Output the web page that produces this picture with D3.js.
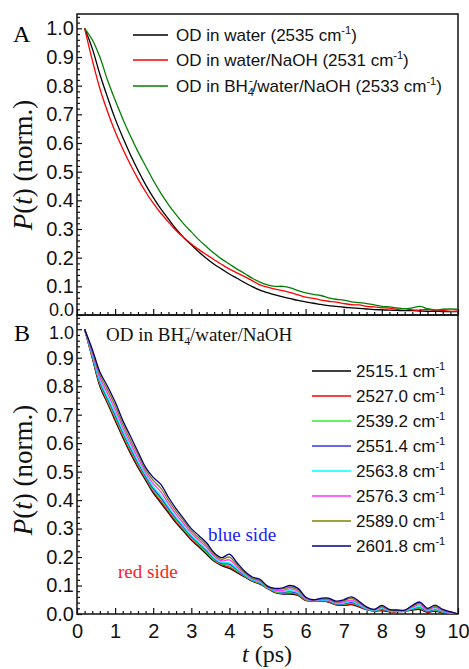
<!DOCTYPE html>
<html><head><meta charset="utf-8">
<script src="https://cdn.jsdelivr.net/npm/d3@7"></script>
<style>
html,body{margin:0;padding:0;background:#fff;}
svg{display:block;}
</style>
</head><body>
<svg id="chart" width="469" height="669"></svg>
<script>
// ---------- DATA ----------
const timesA = [0.2,0.4,0.6,0.8,1.0,1.2,1.4,1.6,1.8,2.0,2.2,2.4,2.6,2.8,3.0,3.2,3.4,3.6,3.8,4.0,4.2,4.4,4.6,4.8,5.0,5.2,5.4,5.6,5.8,6.0,6.2,6.4,6.6,6.8,7.0,7.2,7.4,7.6,7.8,8.0,8.2,8.4,8.6,8.8,9.0,9.2,9.4,9.6,9.8,10.0];
const seriesNamesA = ["OD in water (2535 cm", "OD in water/NaOH (2531 cm", "OD in BH4/water/NaOH (2533 cm"];
const colorsA = ["#000000", "#ff0000", "#008000"];
const odWater = [1.0,0.93,0.84,0.76,0.685,0.62,0.56,0.505,0.455,0.41,0.37,0.335,0.30,0.27,0.245,0.22,0.197,0.177,0.16,0.143,0.128,0.113,0.099,0.087,0.078,0.07,0.063,0.057,0.051,0.046,0.041,0.037,0.033,0.03,0.027,0.025,0.023,0.021,0.019,0.018,0.017,0.016,0.015,0.015,0.014,0.013,0.013,0.012,0.012,0.012];
const odNaOH = [1.0,0.89,0.79,0.71,0.64,0.58,0.525,0.475,0.43,0.39,0.355,0.325,0.295,0.27,0.248,0.228,0.21,0.193,0.176,0.16,0.147,0.134,0.12,0.105,0.097,0.09,0.085,0.078,0.07,0.062,0.058,0.052,0.048,0.045,0.04,0.036,0.035,0.03,0.028,0.025,0.024,0.02,0.022,0.018,0.017,0.02,0.015,0.016,0.013,0.014];
const odBH4 = [1.0,0.96,0.90,0.82,0.75,0.685,0.625,0.57,0.52,0.47,0.425,0.385,0.35,0.318,0.29,0.262,0.238,0.215,0.195,0.178,0.16,0.145,0.128,0.115,0.105,0.1,0.1,0.095,0.085,0.077,0.072,0.068,0.06,0.055,0.052,0.046,0.043,0.04,0.035,0.03,0.028,0.025,0.022,0.025,0.03,0.022,0.018,0.02,0.021,0.02];

const timesB = timesA;
const freqLabelsB = ["2515.1","2527.0","2539.2","2551.4","2563.8","2576.3","2589.0","2601.8"];
const colorsB = ["#000000","#ff0000","#33ee33","#3333ff","#00ffff","#ff33ff","#808000","#000080"];
const b2515 = [1,.900,.800,.740,.680,.620,.565,.515,.470,.425,.390,.355,.320,.290,.260,.235,.210,.185,.170,.160,.145,.130,.115,.105,.090,.075,.070,.070,.065,.048,.045,.045,.042,.032,.030,.033,.025,.015,.010,.012,.008,.008,.009,.014,.016,.006,.010,.004,.002,0];
const b2527 = [1,.902,.806,.745,.686,.626,.571,.520,.475,.431,.396,.360,.325,.295,.264,.239,.214,.188,.173,.165,.149,.132,.117,.107,.091,.077,.072,.073,.067,.049,.046,.046,.043,.033,.032,.036,.027,.016,.011,.014,.009,.009,.010,.016,.019,.007,.012,.005,.003,0];
const b2539 = [1,.906,.810,.750,.692,.632,.577,.526,.480,.436,.403,.366,.330,.299,.268,.243,.218,.191,.176,.170,.152,.134,.118,.108,.092,.078,.074,.076,.070,.050,.046,.047,.045,.035,.034,.038,.029,.017,.011,.016,.010,.009,.010,.017,.021,.009,.014,.006,.003,0];
const b2551 = [1,.910,.815,.756,.699,.638,.583,.531,.484,.441,.409,.371,.335,.304,.272,.247,.222,.194,.178,.175,.156,.136,.120,.110,.093,.080,.077,.079,.072,.052,.047,.048,.046,.036,.036,.041,.031,.018,.012,.017,.010,.010,.011,.019,.024,.010,.016,.008,.004,0];
const b2563 = [1,.912,.820,.762,.706,.644,.589,.537,.489,.447,.416,.377,.340,.308,.276,.251,.226,.197,.181,.180,.159,.138,.121,.112,.093,.081,.079,.082,.075,.053,.047,.049,.048,.037,.038,.044,.033,.019,.012,.019,.011,.010,.011,.020,.026,.012,.018,.009,.004,0];
const b2576 = [1,.918,.830,.775,.718,.656,.600,.548,.497,.458,.429,.388,.350,.317,.284,.259,.234,.203,.187,.190,.166,.142,.124,.115,.095,.084,.083,.088,.080,.055,.048,.051,.050,.040,.042,.049,.037,.021,.014,.023,.013,.011,.012,.024,.032,.014,.023,.011,.005,0];
const b2589 = [1,.925,.840,.788,.732,.668,.612,.560,.506,.469,.442,.399,.360,.326,.292,.267,.242,.209,.192,.200,.173,.146,.127,.118,.096,.087,.088,.094,.085,.058,.049,.053,.053,.042,.046,.055,.041,.023,.015,.026,.014,.013,.013,.027,.037,.017,.027,.014,.007,0];
const b2601 = [1,.930,.850,.800,.745,.680,.625,.570,.515,.480,.455,.410,.370,.335,.300,.275,.250,.215,.198,.210,.180,.150,.130,.122,.098,.090,.092,.100,.090,.060,.050,.055,.056,.045,.050,.060,.045,.025,.016,.030,.016,.014,.014,.030,.042,.020,.031,.016,.008,0];

const xTicks = [0,1,2,3,4,5,6,7,8,9,10];
const yTicks = [0.0,0.1,0.2,0.3,0.4,0.5,0.6,0.7,0.8,0.9,1.0];

// ---------- LAYOUT ----------
const svg = d3.select("#chart");
const L = 77, R = 458;
const panelA = {top: 14, bottom: 315};
const panelB = {top: 315, bottom: 614};
const x = d3.scaleLinear().domain([0,10]).range([L,R]);
const yA = d3.scaleLinear().domain([0,1.05]).range([panelA.bottom, panelA.top]);
const yB = d3.scaleLinear().domain([0,1.05]).range([panelB.bottom, panelB.top]);
const fontSans = "Arial, 'Liberation Sans', sans-serif";
const fontSerif = "'Times New Roman', 'Liberation Serif', serif";

function drawPanel(y, p, which) {
  const g = svg.append("g");
  const yAxis = d3.axisLeft(y).tickValues(yTicks).tickSize(-5).tickPadding(3)
    .tickFormat(d3.format(".1f"));
  const ga = g.append("g").attr("transform", `translate(${L},0)`).call(yAxis);
  ga.select(".domain").remove();
  ga.selectAll("text").attr("font-size", 20).attr("font-family", fontSans).attr("fill","#111");
  // the two labels at the panel junction are squeezed apart a little
  ga.selectAll("text").filter(d => (which === "A" && d === 0) || (which === "B" && d === 1))
    .attr("font-size", 18)
    .attr("transform", which === "A" ? "translate(0,-5)" : "translate(0,3)");
  ga.selectAll("line").attr("stroke","#111").attr("stroke-width",1.2);
  const minorY = d3.range(0, 1.051, 0.02).filter(v => Math.abs(v*10 - Math.round(v*10)) > 1e-6);
  g.append("g").attr("transform", `translate(${L},0)`)
    .call(d3.axisLeft(y).tickValues(minorY).tickSize(-3).tickFormat(""))
    .call(s => { s.select(".domain").remove(); s.selectAll("line").attr("stroke","#111").attr("stroke-width",1.2); });
  const xAxis = d3.axisBottom(x).tickValues(xTicks).tickSize(-6).tickPadding(10)
    .tickFormat(which === "B" ? d3.format("d") : "");
  const gx = g.append("g").attr("transform", `translate(0,${p.bottom})`).call(xAxis);
  gx.select(".domain").remove();
  gx.selectAll("text").attr("font-size", 20).attr("font-family", fontSans).attr("fill","#111");
  gx.selectAll("line").attr("stroke","#111").attr("stroke-width",1.2);
  const minorX = d3.range(0, 10.01, 0.2).filter(v => Math.abs(v - Math.round(v)) > 1e-6);
  g.append("g").attr("transform", `translate(0,${p.bottom})`)
    .call(d3.axisBottom(x).tickValues(minorX).tickSize(-3).tickFormat(""))
    .call(s => { s.select(".domain").remove(); s.selectAll("line").attr("stroke","#111").attr("stroke-width",1.2); });
  g.append("rect").attr("x", L).attr("y", p.top).attr("width", R-L).attr("height", p.bottom-p.top)
    .attr("fill","none").attr("stroke","#111").attr("stroke-width",1.5);
  return g;
}

drawPanel(yA, panelA, "A");
drawPanel(yB, panelB, "B");

svg.append("clipPath").attr("id","clipA").append("rect").attr("x",L).attr("y",panelA.top).attr("width",R-L).attr("height",panelA.bottom-panelA.top);
svg.append("clipPath").attr("id","clipB").append("rect").attr("x",L).attr("y",panelB.top).attr("width",R-L).attr("height",panelB.bottom-panelB.top);

const seriesA = [odWater, odNaOH, odBH4];
const lineA = d3.line().x((d,i)=>x(timesA[i])).y(d=>yA(d)).curve(d3.curveCatmullRom.alpha(0.5));
const gA = svg.append("g").attr("clip-path","url(#clipA)");
seriesA.forEach((s,i)=>{
  gA.append("path").datum(s).attr("d", lineA).attr("fill","none").attr("stroke", colorsA[i]).attr("stroke-width",1.3);
});

const seriesB = [b2515,b2527,b2539,b2551,b2563,b2576,b2589,b2601];
const lineB = d3.line().x((d,i)=>x(timesB[i])).y(d=>yB(d)).curve(d3.curveCatmullRom.alpha(0.5));
const gB = svg.append("g").attr("clip-path","url(#clipB)");
seriesB.forEach((s,i)=>{
  gB.append("path").datum(s).attr("d", lineB).attr("fill","none").attr("stroke", colorsB[i]).attr("stroke-width",1.3);
});

// ---------- LEGEND A ----------
const legA = svg.append("g");
const legARows = [35, 60, 86];
seriesNamesA.forEach((name,i)=>{
  const yy = legARows[i];
  legA.append("line").attr("x1",133).attr("x2",168).attr("y1",yy).attr("y2",yy).attr("stroke",colorsA[i]).attr("stroke-width",1.5);
  const t = legA.append("text").attr("x",176).attr("y",yy+6).attr("font-family",fontSans).attr("font-size",17).attr("fill","#111");
  if (i === 2) {
    t.append("tspan").text("OD in BH");
    t.append("tspan").attr("font-size",11).attr("dy",4).text("4");
    t.append("tspan").attr("font-size",11).attr("dy",-12).attr("dx",-5).text("-");
    t.append("tspan").attr("dy",8).text("/water/NaOH (2533 cm");
  } else {
    t.append("tspan").text(name);
  }
  t.append("tspan").attr("font-size",11).attr("dy",-7).text("-1");
  t.append("tspan").attr("dy",7).text(")");
});

// ---------- LEGEND B ----------
const legB = svg.append("g");
freqLabelsB.forEach((f,i)=>{
  const yy = 371 + i*25;
  legB.append("line").attr("x1",312).attr("x2",351).attr("y1",yy).attr("y2",yy).attr("stroke",colorsB[i]).attr("stroke-width",1.5);
  const t = legB.append("text").attr("x",356).attr("y",yy+6).attr("font-family",fontSans).attr("font-size",17).attr("fill","#111");
  t.append("tspan").text(f + " cm");
  t.append("tspan").attr("font-size",11).attr("dy",-7).text("-1");
});

// ---------- TEXT ----------
svg.append("text").attr("x",13).attr("y",42).attr("font-family",fontSerif).attr("font-size",24).text("A");
svg.append("text").attr("x",14).attr("y",341).attr("font-family",fontSerif).attr("font-size",24).text("B");

const tb = svg.append("text").attr("x",106).attr("y",341).attr("font-family",fontSerif).attr("font-size",19).attr("fill","#111");
tb.append("tspan").text("OD in BH");
tb.append("tspan").attr("font-size",12).attr("dy",4).text("4");
tb.append("tspan").attr("font-size",12).attr("dy",-13).attr("dx",-6).text("\u2212");
tb.append("tspan").attr("dy",9).attr("dx",-1).text("/water/NaOH");

svg.append("text").attr("x",208).attr("y",541).attr("font-family",fontSerif).attr("font-size",19).attr("fill","#1a1aff").text("blue side");
svg.append("text").attr("x",118).attr("y",578).attr("font-family",fontSerif).attr("font-size",19).attr("fill","#ff1a1a").text("red side");

function yTitle(cy){
  const t = svg.append("text").attr("transform",`translate(32,${cy}) rotate(-90)`).attr("text-anchor","middle")
    .attr("font-family",fontSerif).attr("font-size",27).attr("fill","#111");
  t.append("tspan").attr("font-style","italic").text("P");
  t.append("tspan").text("(");
  t.append("tspan").attr("font-style","italic").text("t");
  t.append("tspan").text(") (norm.)");
}
yTitle(165);
yTitle(470);

const xt = svg.append("text").attr("x",267).attr("y",662).attr("text-anchor","middle")
  .attr("font-family",fontSerif).attr("font-size",24).attr("fill","#111");
xt.append("tspan").attr("font-style","italic").text("t");
xt.append("tspan").text(" (ps)");
</script>
</body></html>
